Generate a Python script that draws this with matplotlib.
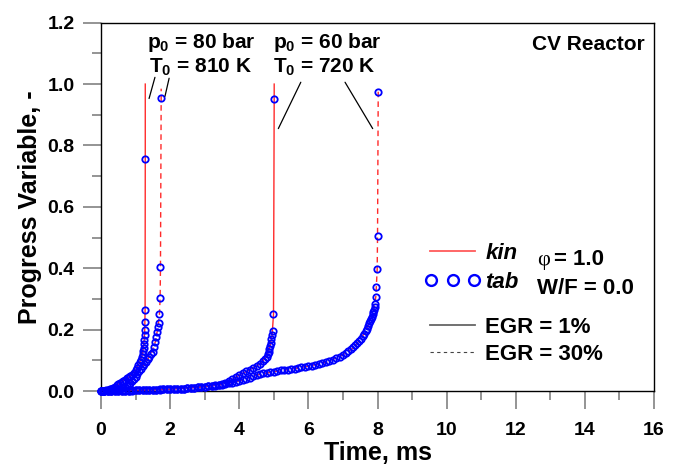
import matplotlib
matplotlib.use("Agg")
import matplotlib.pyplot as plt
from matplotlib.lines import Line2D
from matplotlib.legend_handler import HandlerLine2D

plt.rcParams["font.family"] = ["Liberation Sans", "DejaVu Sans"]
plt.rcParams["mathtext.fontset"] = "custom"
plt.rcParams["mathtext.rm"] = "Liberation Sans:bold"
plt.rcParams["mathtext.default"] = "rm"

# ---------------------------
# data (time in ms, progress variable)
# ---------------------------
# p0 = 80 bar, T0 = 810 K, EGR = 1 %
t_tab_80_1 = [0.00, 0.05, 0.10, 0.15, 0.20, 0.25, 0.30, 0.35, 0.40, 0.45, 0.50, 0.55,
              0.60, 0.65, 0.70, 0.75, 0.80, 0.85, 0.90, 0.95, 1.00, 1.04, 1.08, 1.12,
              1.15, 1.18, 1.20, 1.22, 1.23, 1.24, 1.25, 1.26, 1.265, 1.27, 1.275, 1.28]
c_tab_80_1 = [0.000, 0.000, 0.001, 0.002, 0.003, 0.005, 0.007, 0.010, 0.014, 0.018, 0.022, 0.026,
              0.030, 0.034, 0.037, 0.041, 0.045, 0.048, 0.053, 0.059, 0.067, 0.076, 0.084, 0.093,
              0.101, 0.110, 0.120, 0.130, 0.140, 0.152, 0.166, 0.182, 0.200, 0.225, 0.263, 0.755]
t_kin_80_1 = [0.00, 0.25, 0.40, 0.60, 0.80, 1.00, 1.12, 1.20, 1.24, 1.265, 1.275, 1.28, 1.28]
c_kin_80_1 = [0.000, 0.005, 0.014, 0.030, 0.045, 0.067, 0.093, 0.120, 0.152, 0.200, 0.263, 0.755, 1.000]

# p0 = 80 bar, T0 = 810 K, EGR = 30 %
t_tab_80_30 = [0.00, 0.10, 0.20, 0.30, 0.40, 0.45, 0.50, 0.55, 0.60, 0.65, 0.70, 0.75,
               0.80, 0.85, 0.90, 0.95, 1.00, 1.05, 1.10, 1.15, 1.20, 1.25, 1.30, 1.35,
               1.40, 1.45, 1.49, 1.53, 1.57, 1.60, 1.63, 1.65, 1.67, 1.69, 1.71, 1.72, 1.74]
c_tab_80_30 = [0.000, 0.000, 0.000, 0.001, 0.003, 0.005, 0.006, 0.008, 0.010, 0.012, 0.014, 0.017,
               0.021, 0.026, 0.032, 0.038, 0.046, 0.055, 0.064, 0.072, 0.080, 0.088, 0.095, 0.103,
               0.111, 0.121, 0.128, 0.144, 0.160, 0.177, 0.193, 0.210, 0.220, 0.250, 0.303, 0.405, 0.956]
t_kin_80_30 = [0.00, 0.40, 0.70, 0.90, 1.10, 1.30, 1.45, 1.57, 1.65, 1.69, 1.71, 1.72, 1.74, 1.74]
c_kin_80_30 = [0.000, 0.003, 0.014, 0.032, 0.064, 0.095, 0.121, 0.160, 0.210, 0.250, 0.303, 0.405, 0.956, 0.985]

# p0 = 60 bar, T0 = 720 K, EGR = 1 %
t_tab_60_1 = [0.0, 0.1, 0.2, 0.3, 0.4, 0.5, 0.6, 0.7, 0.8, 0.9, 1.0, 1.1, 1.2, 1.3, 1.4,
              1.5, 1.6, 1.7, 1.8, 1.9, 2.0, 2.1, 2.2, 2.3, 2.4, 2.5, 2.6, 2.7, 2.8, 2.9,
              3.0, 3.1, 3.2, 3.3, 3.4, 3.5, 3.6, 3.7, 3.8, 3.9, 4.0, 4.1, 4.2, 4.3, 4.4,
              4.5, 4.6, 4.7, 4.75, 4.79, 4.82, 4.85, 4.87, 4.89, 4.91, 4.93, 4.95, 4.97,
              4.99, 5.01]
c_tab_60_1 = [0.000, 0.000, 0.000, 0.000, 0.000, 0.001, 0.001, 0.001, 0.001, 0.002, 0.002, 0.002,
              0.003, 0.003, 0.003, 0.004, 0.004, 0.005, 0.005, 0.005, 0.006, 0.006, 0.007, 0.008,
              0.008, 0.009, 0.010, 0.011, 0.012, 0.013, 0.014, 0.015, 0.017, 0.019, 0.021, 0.024,
              0.027, 0.032, 0.038, 0.045, 0.052, 0.059, 0.064, 0.069, 0.074, 0.080, 0.088, 0.097,
              0.105, 0.112, 0.120, 0.128, 0.137, 0.146, 0.157, 0.168, 0.182, 0.196, 0.250, 0.953]
t_kin_60_1 = [0.0, 1.0, 2.0, 3.0, 3.5, 3.8, 4.0, 4.3, 4.6, 4.79, 4.89, 4.95, 4.99, 5.01, 5.01]
c_kin_60_1 = [0.000, 0.002, 0.006, 0.014, 0.024, 0.038, 0.052, 0.069, 0.088, 0.112, 0.146, 0.182, 0.250, 0.953, 1.000]

# p0 = 60 bar, T0 = 720 K, EGR = 30 %
t_tab_60_30 = [0.0, 0.1, 0.2, 0.3, 0.4, 0.5, 0.6, 0.7, 0.8, 0.9, 1.0, 1.1, 1.2, 1.3, 1.4,
               1.5, 1.6, 1.7, 1.8, 1.9, 2.0, 2.1, 2.2, 2.3, 2.4, 2.5, 2.6, 2.7, 2.8, 2.9,
               3.0, 3.1, 3.2, 3.3, 3.4, 3.5, 3.6, 3.7, 3.8, 3.9, 4.0, 4.1, 4.2, 4.3, 4.4,
               4.5, 4.6, 4.7, 4.8, 4.9, 5.0, 5.1, 5.2, 5.3, 5.4, 5.5, 5.6, 5.7, 5.8, 5.9,
               6.0, 6.1, 6.2, 6.3, 6.4, 6.5, 6.6, 6.7, 6.8, 6.9, 7.0, 7.08, 7.15, 7.22,
               7.29, 7.35, 7.41, 7.47, 7.52, 7.57, 7.62, 7.66, 7.70, 7.73, 7.76, 7.79,
               7.81, 7.84, 7.86, 7.88, 7.90, 7.92, 7.93, 7.95, 7.97, 7.99, 8.00, 8.02]
c_tab_60_30 = [0.000, 0.000, 0.000, 0.000, 0.000, 0.000, 0.001, 0.001, 0.001, 0.001, 0.002, 0.002,
               0.002, 0.003, 0.003, 0.003, 0.004, 0.004, 0.005, 0.005, 0.006, 0.006, 0.007, 0.007,
               0.008, 0.009, 0.010, 0.011, 0.012, 0.013, 0.014, 0.015, 0.016, 0.017, 0.019, 0.021,
               0.023, 0.025, 0.027, 0.030, 0.033, 0.036, 0.040, 0.044, 0.048, 0.052, 0.055, 0.058,
               0.060, 0.062, 0.063, 0.065, 0.067, 0.069, 0.070, 0.071, 0.073, 0.075, 0.077, 0.079,
               0.081, 0.083, 0.085, 0.087, 0.090, 0.093, 0.097, 0.101, 0.106, 0.111, 0.118, 0.124,
               0.130, 0.136, 0.143, 0.150, 0.157, 0.164, 0.171, 0.179, 0.187, 0.195, 0.203, 0.211,
               0.220, 0.228, 0.235, 0.242, 0.250, 0.257, 0.264, 0.274, 0.283, 0.307, 0.340, 0.396,
               0.505, 0.975]
t_kin_60_30 = [0.0, 1.0, 2.0, 3.0, 3.5, 4.0, 4.5, 5.0, 5.5, 6.0, 6.5, 7.0, 7.3, 7.57, 7.76, 7.88,
               7.95, 7.99, 8.00, 8.02]
c_kin_60_30 = [0.000, 0.002, 0.006, 0.014, 0.021, 0.033, 0.052, 0.063, 0.071, 0.081, 0.093, 0.118,
               0.140, 0.179, 0.220, 0.257, 0.307, 0.396, 0.505, 0.975]

cases = [
    (t_kin_80_1, c_kin_80_1, t_tab_80_1, c_tab_80_1, "-"),
    (t_kin_80_30, c_kin_80_30, t_tab_80_30, c_tab_80_30, "--"),
    (t_kin_60_1, c_kin_60_1, t_tab_60_1, c_tab_60_1, "-"),
    (t_kin_60_30, c_kin_60_30, t_tab_60_30, c_tab_60_30, "--"),
]

RED = "#ff2a2a"
BLUE = "#0000ff"

fig = plt.figure(figsize=(6.84, 4.72), dpi=100)
ax = fig.add_axes([0.1477, 0.1716, 0.8085, 0.7803])

for t_kin, c_kin, t_tab, c_tab, ls in cases:
    line, = ax.plot(t_kin, c_kin, color=RED, lw=1.0, ls=ls, zorder=2, clip_on=False)
    if ls == "--":
        line.set_dashes((4, 3))
    ax.plot(t_tab, c_tab, ls="none", marker="o", ms=4.6, mfc="none", mec=BLUE, mew=1.3,
            zorder=3, clip_on=False)

ax.set_xlim(0, 16)
ax.set_ylim(0, 1.2)
ax.set_xticks(range(0, 17, 2))
ax.set_xticks(range(1, 17, 2), minor=True)
ax.set_yticks([0.0, 0.2, 0.4, 0.6, 0.8, 1.0, 1.2])
ax.set_yticks([0.1, 0.3, 0.5, 0.7, 0.9, 1.1], minor=True)
ax.set_yticklabels(["0.0", "0.2", "0.4", "0.6", "0.8", "1.0", "1.2"])

ax.tick_params(which="major", direction="out", length=13, width=1.1, color="#777777",
               labelsize=14, pad=6)
ax.tick_params(which="minor", direction="out", length=6.5, width=1.1, color="#777777")
ax.tick_params(axis="x", which="major", pad=9)
for lab in ax.get_xticklabels() + ax.get_yticklabels():
    lab.set_fontweight("bold")
for sp in ax.spines.values():
    sp.set_linewidth(1.0)
    sp.set_color("black")

ax.set_xlabel("Time, ms", fontsize=18, fontweight="bold", labelpad=2)
ax.set_ylabel("Progress Variable, -", fontsize=18, fontweight="bold", labelpad=4)

# annotations
ax.text(1.32, 1.118, "p$_0$ = 80 bar", fontsize=15, fontweight="bold", va="baseline")
ax.text(1.39, 1.036, "T$_0$ = 810 K", fontsize=15, fontweight="bold", va="baseline")
ax.text(4.98, 1.118, "p$_0$ = 60 bar", fontsize=15, fontweight="bold", va="baseline")
ax.text(4.98, 1.036, "T$_0$ = 720 K", fontsize=15, fontweight="bold", va="baseline")
leaders = [((1.56, 1.022), (1.39, 0.953)), ((1.97, 1.019), (1.85, 0.96)),
           ((5.78, 1.006), (5.13, 0.855)), ((7.06, 1.006), (7.86, 0.855))]
for start, end in leaders:
    ax.annotate("", xy=end, xytext=start,
                arrowprops=dict(arrowstyle="-", color="black", lw=0.9, shrinkA=0, shrinkB=0))

ax.text(15.74, 1.11, "CV Reactor", fontsize=15, fontweight="bold", ha="right", va="baseline")

# legends
h_kin = Line2D([], [], color="#ff5a5a", lw=1.3)
h_tab = Line2D([], [], ls="none", marker="o", ms=7.8, mfc="none", mec=BLUE, mew=1.7)
leg1 = ax.legend([h_kin, h_tab], ["kin", "tab"], loc="center left", bbox_to_anchor=(0.595, 0.334),
                 frameon=False, numpoints=3, handlelength=2.03, handletextpad=0.45,
                 labelspacing=0.36, borderpad=0, borderaxespad=0,
                 handler_map={h_tab: HandlerLine2D(numpoints=3, marker_pad=0.05),
                              h_kin: HandlerLine2D(numpoints=1)},
                 prop=dict(family="Liberation Sans", weight="bold", style="italic", size=16))
ax.add_artist(leg1)

h_egr1 = Line2D([], [], color="#666666", lw=1.3)
h_egr30 = Line2D([], [], color="#444444", lw=0.8, dashes=(3, 3))
ax.legend([h_egr1, h_egr30], ["EGR = 1%", "EGR = 30%"], loc="center left",
          bbox_to_anchor=(0.595, 0.136), frameon=False, handlelength=2.03, handletextpad=0.45,
          labelspacing=0.27, borderpad=0, borderaxespad=0,
          prop=dict(family="Liberation Sans", weight="bold", size=16))

ax.text(12.62, 0.41, "φ", fontsize=16, family="Liberation Serif", va="baseline")
ax.text(13.1, 0.41, "= 1.0", fontsize=16, fontweight="bold", va="baseline")
ax.text(12.62, 0.316, "W/F = 0.0", fontsize=16, fontweight="bold", va="baseline")

fig.savefig("out.png", dpi=100)
